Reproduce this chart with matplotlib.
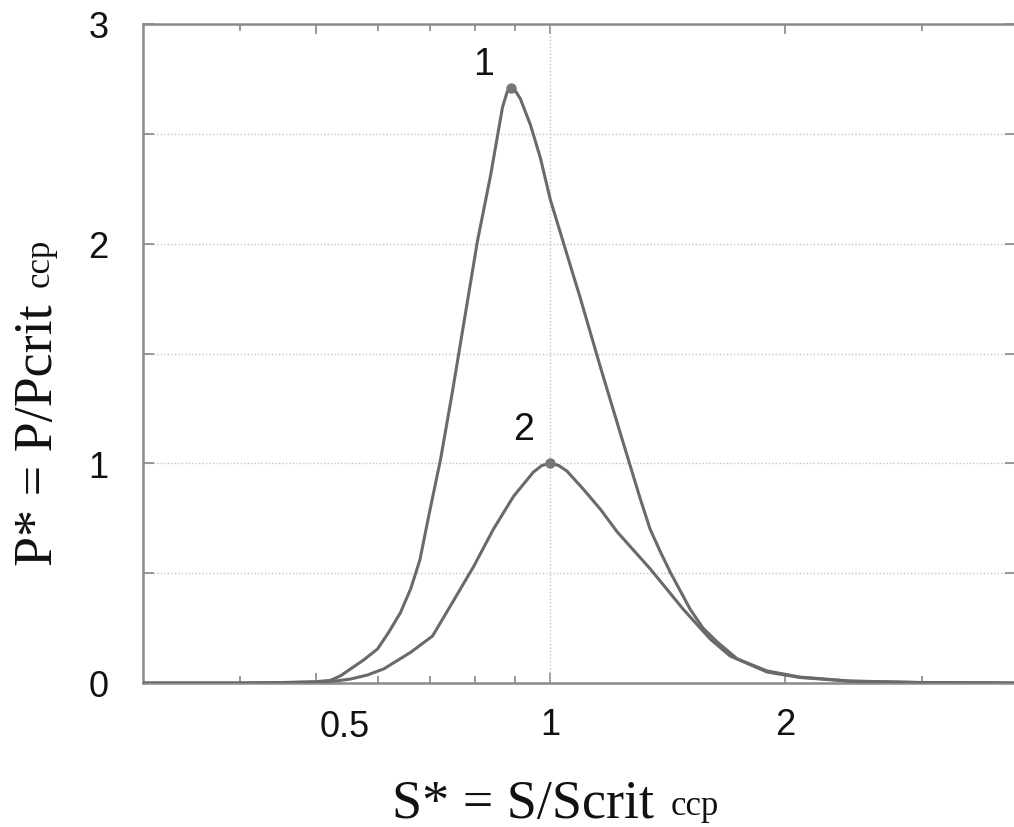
import matplotlib
matplotlib.use("Agg")
import matplotlib.pyplot as plt
import matplotlib.transforms as mtransforms
import numpy as np

# Curve 1 (S*, P*)
s1 = [0.30, 0.40, 0.45, 0.50, 0.522, 0.538, 0.554, 0.576, 0.600, 0.620, 0.642,
      0.662, 0.680, 0.698, 0.723, 0.749, 0.806, 0.838, 0.868, 0.880, 0.889,
      0.900, 0.915, 0.943, 0.971, 1.000, 1.030, 1.093, 1.159, 1.229, 1.304,
      1.343, 1.383, 1.425, 1.511, 1.570, 1.637, 1.737, 1.897, 2.092, 2.426,
      3.0, 3.96]
p1 = [0.0, 0.0, 0.002, 0.006, 0.012, 0.033, 0.064, 0.105, 0.155, 0.23, 0.32,
      0.43, 0.56, 0.76, 1.02, 1.33, 2.01, 2.31, 2.62, 2.69, 2.71,
      2.70, 2.66, 2.54, 2.39, 2.20, 2.05, 1.75, 1.44, 1.14, 0.84,
      0.70, 0.60, 0.505, 0.337, 0.25, 0.187, 0.11, 0.055, 0.027, 0.009,
      0.002, 0.0]

# Curve 2 (S*, P*)
s2 = [0.30, 0.40, 0.45, 0.50, 0.530, 0.554, 0.582, 0.611, 0.662, 0.706, 0.744,
      0.797, 0.845, 0.897, 0.951, 0.975, 1.000, 1.025, 1.050, 1.102, 1.160,
      1.219, 1.343, 1.480, 1.604, 1.701, 1.897, 2.092, 2.426, 3.0, 3.96]
p2 = [0.0, 0.0, 0.001, 0.004, 0.009, 0.018, 0.036, 0.064, 0.14, 0.214, 0.35,
      0.53, 0.70, 0.85, 0.96, 0.99, 1.00, 0.99, 0.965, 0.883, 0.79,
      0.687, 0.52, 0.337, 0.20, 0.123, 0.050, 0.025, 0.008, 0.002, 0.0]

curve_names = ["1", "2"]
label_pos = [(0.820, 2.82), (0.923, 1.156)]

x_major = [0.5, 1, 2]
x_major_labels = ["0.5", "1", "2"]
x_minor = [0.4, 0.6, 0.7, 0.8, 0.9, 3]
y_ticks = [0, 0.5, 1, 1.5, 2, 2.5, 3]
y_tick_labels = ["0", "", "1", "", "2", "", "3"]

W, H = 1014, 828
fig = plt.figure(figsize=(W / 100, H / 100), dpi=100)
ax = fig.add_axes([143 / W, (H - 684) / H, (1016 - 143) / W, (684 - 25) / H])

line_col = "#6a6a6a"
for s, p in [(s1, p1), (s2, p2)]:
    ax.plot(s, p, color=line_col, lw=2.2, solid_joinstyle="round", zorder=3)
    i = int(np.argmax(p))
    ax.plot([s[i]], [p[i]], "o", color="#777777", ms=6.5, zorder=4)

for name, (lx, ly) in zip(curve_names, label_pos):
    ax.text(lx, ly, name, fontsize=27, family="Liberation Sans",
            ha="center", va="center", color="#111111")

ax.set_xscale("log")
ax.set_xlim(0.3, 3.96)
ax.set_ylim(0, 3)

ax.set_xticks(x_major)
# the first label ("0.5") is drawn separately, shifted right as in the reference
ax.set_xticklabels([""] + x_major_labels[1:])
ax.set_xticks(x_minor, minor=True)
ax.xaxis.set_minor_formatter(matplotlib.ticker.NullFormatter())
ax.set_yticks(y_ticks)
ax.set_yticklabels(y_tick_labels)

for lab in ax.get_xticklabels() + ax.get_yticklabels():
    lab.set_family("Liberation Sans")
    lab.set_fontsize(26)
    lab.set_color("#111111")

trans05 = mtransforms.blended_transform_factory(ax.transData, ax.transAxes) + \
    mtransforms.ScaledTranslation(29 / 100, -(17 + 2) / 72, fig.dpi_scale_trans)
ax.text(x_major[0], 0, x_major_labels[0], transform=trans05, ha="center",
        va="top", family="Liberation Sans", fontsize=26, color="#111111")

ax.tick_params(axis="both", which="both", direction="in", colors="#888888",
               top=True, right=True, labelcolor="#111111")
ax.tick_params(axis="x", which="major", length=7, width=1.2, pad=17)
ax.tick_params(axis="x", which="minor", length=5, width=1.2)
ax.tick_params(axis="y", which="major", length=8, width=1.2, pad=25)

for sp in ax.spines.values():
    sp.set_color("#8a8a8a")
    sp.set_linewidth(1.8)

ax.yaxis.grid(True, linestyle=(0, (1, 1.5)), color="#c4c4c4", lw=1.0)
ax.axvline(1, linestyle=(0, (1, 1.5)), color="#c4c4c4", lw=1.0, zorder=1)
ax.set_axisbelow(True)

# axis labels
serif = "Liberation Serif"
fig.text(392 / W, (H - 818) / H, "S* = S/Scrit", family=serif, fontsize=39,
         ha="left", va="baseline", color="#111111")
fig.text(671 / W, (H - 815) / H, "ccp", family=serif, fontsize=25,
         ha="left", va="baseline", color="#111111")

fig.text(52 / W, (H - 566) / H, "P* = P/Pcrit", family=serif, fontsize=39,
         rotation=90, rotation_mode="anchor", ha="left", va="baseline",
         color="#111111")
fig.text(49 / W, (H - 287) / H, "ccp", family=serif, fontsize=25,
         rotation=90, rotation_mode="anchor", ha="left", va="baseline",
         color="#111111")

fig.savefig("out.png", dpi=100)
